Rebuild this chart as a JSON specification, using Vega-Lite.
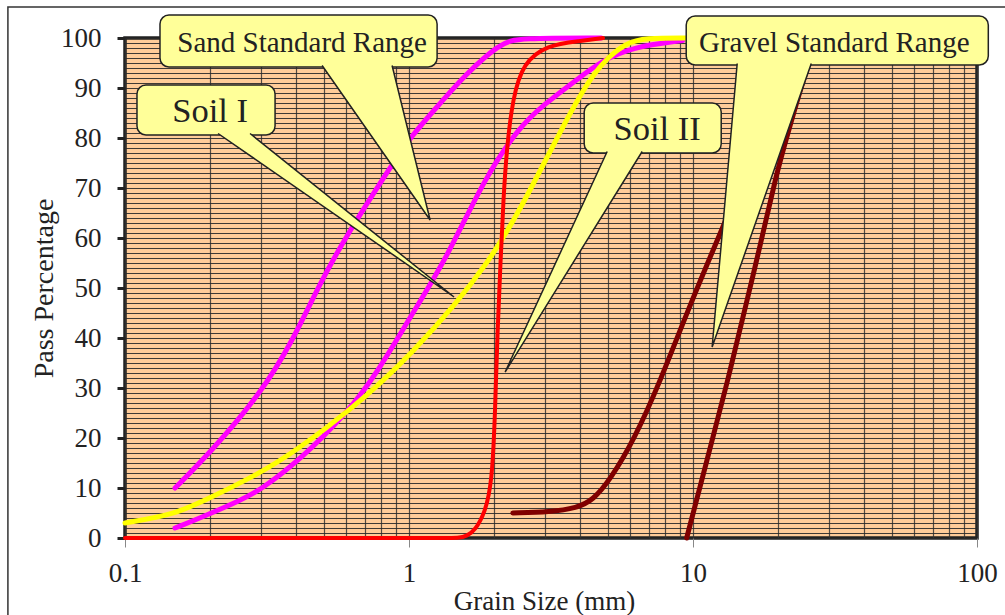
{
  "$schema": "https://vega.github.io/schema/vega-lite/v6.json",
  "width": 852,
  "height": 500,
  "autosize": {"type": "none"},
  "padding": {"left": 125, "top": 38, "right": 28, "bottom": 77},
  "background": "white",
  "config": {
    "view": {"fill": "#FFCC99", "stroke": "#222222", "strokeWidth": 3.5},
    "font": "Liberation Serif"
  },
  "datasets": {
    "curves": [
      {"s": "Sand lower", "x": 0.15, "y": 2},
      {"s": "Sand lower", "x": 0.184, "y": 4},
      {"s": "Sand lower", "x": 0.254, "y": 7.5},
      {"s": "Sand lower", "x": 0.3, "y": 9.6},
      {"s": "Sand lower", "x": 0.413, "y": 15.6},
      {"s": "Sand lower", "x": 0.605, "y": 25},
      {"s": "Sand lower", "x": 0.772, "y": 33},
      {"s": "Sand lower", "x": 1.01, "y": 44.2},
      {"s": "Sand lower", "x": 1.36, "y": 56},
      {"s": "Sand lower", "x": 1.83, "y": 71.6},
      {"s": "Sand lower", "x": 2.43, "y": 82},
      {"s": "Sand lower", "x": 2.95, "y": 86.5},
      {"s": "Sand lower", "x": 4.1, "y": 92.6},
      {"s": "Sand lower", "x": 4.72, "y": 95.2},
      {"s": "Sand lower", "x": 6.1, "y": 98.2},
      {"s": "Sand lower", "x": 9.2, "y": 99.5},
      {"s": "Sand upper", "x": 0.15, "y": 10},
      {"s": "Sand upper", "x": 0.199, "y": 17},
      {"s": "Sand upper", "x": 0.3, "y": 28.8},
      {"s": "Sand upper", "x": 0.391, "y": 39.6},
      {"s": "Sand upper", "x": 0.486, "y": 51},
      {"s": "Sand upper", "x": 0.61, "y": 61},
      {"s": "Sand upper", "x": 0.857, "y": 74},
      {"s": "Sand upper", "x": 1.01, "y": 80.2},
      {"s": "Sand upper", "x": 1.32, "y": 87.6},
      {"s": "Sand upper", "x": 1.55, "y": 92.2},
      {"s": "Sand upper", "x": 2.09, "y": 99},
      {"s": "Sand upper", "x": 2.45, "y": 100},
      {"s": "Sand upper", "x": 4.75, "y": 100},
      {"s": "Soil I", "x": 0.1, "y": 3},
      {"s": "Soil I", "x": 0.15, "y": 4.7},
      {"s": "Soil I", "x": 0.199, "y": 8},
      {"s": "Soil I", "x": 0.3, "y": 13},
      {"s": "Soil I", "x": 0.4, "y": 17.5},
      {"s": "Soil I", "x": 0.605, "y": 25},
      {"s": "Soil I", "x": 1.01, "y": 36.2},
      {"s": "Soil I", "x": 1.98, "y": 55.6},
      {"s": "Soil I", "x": 2.75, "y": 71},
      {"s": "Soil I", "x": 3.5, "y": 82.5},
      {"s": "Soil I", "x": 4.0, "y": 88.5},
      {"s": "Soil I", "x": 4.5, "y": 93},
      {"s": "Soil I", "x": 5.0, "y": 96},
      {"s": "Soil I", "x": 5.8, "y": 99},
      {"s": "Soil I", "x": 6.8, "y": 100},
      {"s": "Soil I", "x": 9.5, "y": 100},
      {"s": "Soil II", "x": 0.1, "y": 0},
      {"s": "Soil II", "x": 1.3, "y": 0},
      {"s": "Soil II", "x": 1.5, "y": 0},
      {"s": "Soil II", "x": 1.6, "y": 0.4},
      {"s": "Soil II", "x": 1.71, "y": 1.6},
      {"s": "Soil II", "x": 1.85, "y": 5},
      {"s": "Soil II", "x": 1.96, "y": 11},
      {"s": "Soil II", "x": 2.01, "y": 25},
      {"s": "Soil II", "x": 2.05, "y": 42},
      {"s": "Soil II", "x": 2.1, "y": 55},
      {"s": "Soil II", "x": 2.15, "y": 68},
      {"s": "Soil II", "x": 2.21, "y": 78},
      {"s": "Soil II", "x": 2.32, "y": 88},
      {"s": "Soil II", "x": 2.52, "y": 95},
      {"s": "Soil II", "x": 3.06, "y": 98.6},
      {"s": "Soil II", "x": 4.0, "y": 99.4},
      {"s": "Soil II", "x": 4.82, "y": 100},
      {"s": "Gravel lower", "x": 2.32, "y": 5},
      {"s": "Gravel lower", "x": 3.14, "y": 5.2},
      {"s": "Gravel lower", "x": 3.9, "y": 6},
      {"s": "Gravel lower", "x": 4.45, "y": 7.6},
      {"s": "Gravel lower", "x": 5.1, "y": 11.6},
      {"s": "Gravel lower", "x": 6.2, "y": 19.6},
      {"s": "Gravel lower", "x": 7.7, "y": 31.6},
      {"s": "Gravel lower", "x": 9.5, "y": 45},
      {"s": "Gravel lower", "x": 12.6, "y": 61.6},
      {"s": "Gravel lower", "x": 17.3, "y": 80},
      {"s": "Gravel lower", "x": 24, "y": 100},
      {"s": "Gravel upper", "x": 9.5, "y": 0},
      {"s": "Gravel upper", "x": 11.2, "y": 15.6},
      {"s": "Gravel upper", "x": 13.2, "y": 31},
      {"s": "Gravel upper", "x": 15.5, "y": 47.6},
      {"s": "Gravel upper", "x": 17.2, "y": 58.2},
      {"s": "Gravel upper", "x": 19.7, "y": 73},
      {"s": "Gravel upper", "x": 21.4, "y": 80.2},
      {"s": "Gravel upper", "x": 24.5, "y": 92},
      {"s": "Gravel upper", "x": 27.5, "y": 100}
    ],
    "frame": [
      {"i": 0, "x": 0.0387, "y": -20},
      {"i": 1, "x": 0.0387, "y": 106.2},
      {"i": 2, "x": 200, "y": 106.2}
    ],
    "boxes": [
      {"id": "sand", "x": 0.1328, "x2": 1.256, "y": 104.6, "y2": 94.2},
      {"id": "soil1", "x": 0.1102, "x2": 0.3376, "y": 90.6, "y2": 80.6},
      {"id": "soil2", "x": 4.139, "x2": 12.57, "y": 87.0, "y2": 77.0},
      {"id": "gravel", "x": 9.465, "x2": 109.6, "y": 104.4, "y2": 94.6}
    ],
    "pointers": [
      {"id": "sand", "i": 0, "x": 0.4943, "y": 94.5},
      {"id": "sand", "i": 1, "x": 1.1867, "y": 63.6},
      {"id": "sand", "i": 2, "x": 0.8718, "y": 94.5},
      {"id": "soil1", "i": 0, "x": 0.2127, "y": 80.9},
      {"id": "soil1", "i": 1, "x": 1.441, "y": 48.2},
      {"id": "soil1", "i": 2, "x": 0.2756, "y": 80.9},
      {"id": "soil2", "i": 0, "x": 4.987, "y": 77.3},
      {"id": "soil2", "i": 1, "x": 2.18, "y": 33.2},
      {"id": "soil2", "i": 2, "x": 6.624, "y": 77.3},
      {"id": "gravel", "i": 0, "x": 14.31, "y": 94.9},
      {"id": "gravel", "i": 1, "x": 11.68, "y": 38.2},
      {"id": "gravel", "i": 2, "x": 26.09, "y": 94.9}
    ],
    "labels": [
      {"label": "Sand Standard Range", "x": 0.4203, "y": 97.2},
      {"label": "Soil I", "x": 0.1993, "y": 83.2},
      {"label": "Soil II", "x": 7.479, "y": 79.6},
      {"label": "Gravel Standard Range", "x": 31.43, "y": 97.2}
    ]
  },
  "encoding": {
    "x": {
      "field": "x",
      "type": "quantitative",
      "scale": {"type": "log", "domain": [0.1, 100], "nice": false},
      "axis": {
        "title": "Grain Size (mm)",
        "values": [0.1, 0.2, 0.3, 0.4, 0.5, 0.6, 0.7, 0.8, 0.9, 1, 2, 3, 4, 5, 6, 7, 8, 9, 10, 20, 30, 40, 50, 60, 70, 80, 90, 100],
        "labelExpr": "indexof([0.1, 1, 10, 100], datum.value) >= 0 ? format(datum.value, '~g') : ''",
        "labelFlush": false,
        "labelOverlap": false,
        "labelFont": "Liberation Serif",
        "labelFontSize": 27,
        "labelColor": "#222222",
        "labelPadding": 13,
        "tickSize": 9,
        "tickColor": "#888888",
        "tickWidth": 1,
        "tickOpacity": {"condition": {"test": "indexof([0.1, 1, 10, 100], datum.value) >= 0", "value": 1}, "value": 0},
        "grid": true,
        "gridColor": "#333333",
        "gridWidth": 1.2,
        "gridOpacity": 0.85,
        "domain": false,
        "titleFont": "Liberation Serif",
        "titleFontSize": 27,
        "titleFontWeight": "normal",
        "titleColor": "#222222",
        "titleX": 419,
        "titleY": 63,
        "titleBaseline": "middle",
        "titleAlign": "center"
      }
    },
    "y": {
      "field": "y",
      "type": "quantitative",
      "scale": {"domain": [0, 100], "nice": false, "zero": false},
      "axis": {
        "title": "Pass Percentage",
        "values": [0,1,2,3,4,5,6,7,8,9,10,11,12,13,14,15,16,17,18,19,20,21,22,23,24,25,26,27,28,29,30,31,32,33,34,35,36,37,38,39,40,41,42,43,44,45,46,47,48,49,50,51,52,53,54,55,56,57,58,59,60,61,62,63,64,65,66,67,68,69,70,71,72,73,74,75,76,77,78,79,80,81,82,83,84,85,86,87,88,89,90,91,92,93,94,95,96,97,98,99,100],
        "labelExpr": "datum.value % 10 === 0 ? datum.label : ''",
        "labelOverlap": false,
        "labelFont": "Liberation Serif",
        "labelFontSize": 27,
        "labelColor": "#222222",
        "labelPadding": 16,
        "tickSize": 8,
        "tickWidth": 3,
        "tickColor": "#222222",
        "tickOpacity": {"condition": {"test": "datum.value % 10 === 0", "value": 1}, "value": 0},
        "grid": true,
        "gridColor": "#2a2a2a",
        "gridWidth": 1,
        "gridOpacity": 0.9,
        "domain": false,
        "titleFont": "Liberation Serif",
        "titleFontSize": 28,
        "titleFontWeight": "normal",
        "titleColor": "#222222",
        "titleAngle": -90,
        "titleX": -81,
        "titleY": 250,
        "titleAlign": "center",
        "titleBaseline": "middle"
      }
    }
  },
  "layer": [
    {
      "data": {"name": "frame"},
      "mark": {"type": "line", "stroke": "#333333", "strokeWidth": 1.5, "interpolate": "linear"},
      "encoding": {"order": {"field": "i", "type": "quantitative"}}
    },
    {
      "data": {"name": "curves"},
      "mark": {"type": "line", "interpolate": "basis", "strokeCap": "round"},
      "encoding": {
        "color": {
          "field": "s",
          "type": "nominal",
          "scale": {
            "domain": ["Sand lower", "Sand upper", "Soil I", "Soil II", "Gravel lower", "Gravel upper"],
            "range": ["#FF00FF", "#FF00FF", "#FFFF00", "#FF0000", "#800000", "#800000"]
          },
          "legend": null
        },
        "strokeWidth": {"condition": {"test": "datum.s === 'Soil II'", "value": 4}, "value": 5}
      }
    },
    {
      "data": {"name": "boxes"},
      "mark": {"type": "rect", "fill": "#FFFF99", "stroke": "#222222", "strokeWidth": 1.5, "cornerRadius": 9},
      "encoding": {
        "x2": {"field": "x2"},
        "y2": {"field": "y2"}
      }
    },
    {
      "data": {"name": "pointers"},
      "mark": {"type": "line", "fill": "#FFFF99", "stroke": "#222222", "strokeWidth": 1.5, "interpolate": "linear", "strokeJoin": "miter"},
      "encoding": {
        "detail": {"field": "id", "type": "nominal"},
        "order": {"field": "i", "type": "quantitative"}
      }
    },
    {
      "data": {"name": "labels"},
      "mark": {"type": "text", "font": "Liberation Serif", "color": "#222222", "align": "center", "baseline": "alphabetic"},
      "encoding": {
        "text": {"field": "label", "type": "nominal"},
        "size": {"condition": {"test": "indexof(datum.label, 'Soil') === 0", "value": 34.5}, "value": 29}
      }
    }
  ]
}
